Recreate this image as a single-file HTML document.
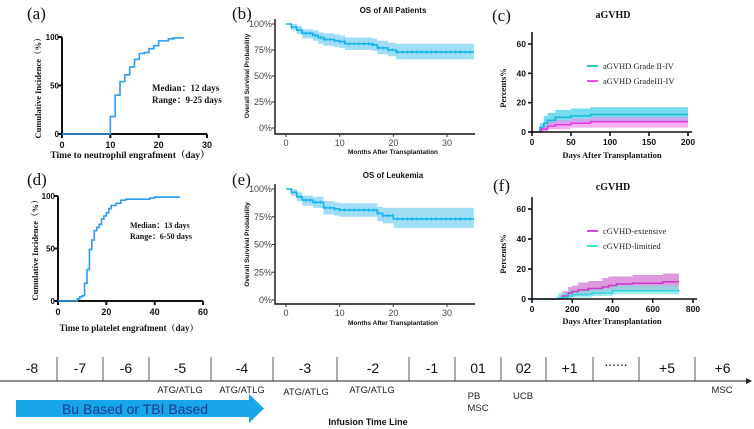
<!DOCTYPE html>
<html><head><meta charset="utf-8">
<style>
html,body{margin:0;padding:0;background:#fff;}
svg{display:block;}
.serif{font-family:"Liberation Serif","Noto Serif CJK SC",serif;}
.sans{font-family:"Liberation Sans","Noto Sans CJK SC",sans-serif;}
</style></head>
<body>
<svg id="fig" width="754" height="429" viewBox="0 0 754 429" xmlns="http://www.w3.org/2000/svg"></svg>
<script>
// ---- data ----
const neutDays = [0, 9, 10, 11, 12, 13, 14, 15, 16, 17, 18, 19, 20, 22, 23, 25];
const neutPct  = [0, 0, 18, 40, 54, 61, 69, 77, 83, 84, 88, 91, 96, 98, 99, 100];
const pltDays = [0, 6, 8, 9, 10, 11, 12, 13, 14, 15, 16, 17, 18, 19, 20, 21, 22, 24, 26, 28, 38, 40, 50];
const pltPct  = [0, 0, 2, 4, 5, 17, 30, 49, 58, 67, 70, 73, 78, 81, 84, 88, 91, 93, 96, 97, 98, 99, 100];
const osAllMonths = [0, 1, 2, 3, 5, 6, 7, 9, 10, 11, 16, 17, 19, 20.5, 35];
const osAllSurv   = [100, 97, 94, 91, 89, 87, 85, 84, 83, 81, 80, 77, 75, 73, 73];
const osAllLow    = [100, 94, 90, 86, 84, 81, 79, 78, 77, 75, 74, 71, 69, 66, 66];
const osAllHigh   = [100, 100, 98, 95, 94, 92, 91, 90, 89, 87, 86, 84, 82, 81, 81];
const osLeuMonths = [0, 1, 2, 3, 5, 7, 9, 10, 17, 18, 20, 35];
const osLeuSurv   = [100, 97, 93, 90, 88, 83, 82, 81, 78, 76, 73, 73];
const osLeuLow    = [100, 94, 89, 85, 83, 77, 76, 75, 71, 69, 65, 65];
const osLeuHigh   = [100, 100, 97, 94, 93, 89, 88, 87, 84, 83, 83, 83];
const aDays = [0, 8, 10, 15, 20, 30, 50, 75, 200];
const a24   = [0, 0, 3, 6, 8, 10, 11, 12, 12];
const a24Lo = [0, 0, 0, 2, 4, 6, 7, 7, 7];
const a24Hi = [0, 0, 6, 11, 13, 15, 16, 17, 17];
const a34Days = [0, 10, 12, 20, 30, 50, 75, 200];
const a34   = [0, 0, 2, 4, 5, 6, 7, 7];
const a34Lo = [0, 0, 0, 2, 2, 3, 3, 3];
const a34Hi = [0, 0, 4, 7, 8, 9, 10, 10];
const cExtDays = [0, 100, 150, 180, 200, 230, 280, 350, 380, 420, 500, 650, 730];
const cExt   = [0, 0, 2, 4, 5, 6, 7, 8, 9, 10, 10.5, 11.5, 11.5];
const cExtLo = [0, 0, 0, 1, 2, 2, 3, 4, 5, 5, 6, 6, 6];
const cExtHi = [0, 0, 5, 8, 9, 11, 12, 14, 15, 15, 16, 17, 17];
const cLimDays = [0, 100, 130, 180, 200, 300, 400, 730];
const cLim   = [0, 0, 1, 2, 3, 4, 5.5, 6];
const cLimLo = [0, 0, 0, 0, 1, 2, 3, 3];
const cLimHi = [0, 0, 4, 5, 6, 7, 9, 9];
const timelineLabels = ["-8","-7","-6","-5","-4","-3","-2","-1","01","02","+1","......","+5","+6"];

const NS = "http://www.w3.org/2000/svg";
const fig = document.getElementById('fig');
function mk(tag, attrs, parent, text){
  const e = document.createElementNS(NS, tag);
  for (const k in attrs) e.setAttribute(k, attrs[k]);
  if (text !== undefined) e.textContent = text;
  (parent || fig).appendChild(e);
  return e;
}
function scale(d0,d1,r0,r1){ return v => r0 + (v-d0)/(d1-d0)*(r1-r0); }
function stepPath(xs, ys, sx, sy, xEnd){
  let d = "M" + sx(xs[0]) + "," + sy(ys[0]);
  for (let i=1;i<xs.length;i++){ d += " H" + sx(xs[i]) + " V" + sy(ys[i]); }
  if (xEnd !== undefined) d += " H" + sx(xEnd);
  return d;
}
function stepBand(xs, lo, hi, sx, sy){
  let d = "M" + sx(xs[0]) + "," + sy(hi[0]);
  for (let i=1;i<xs.length;i++){ d += " H" + sx(xs[i]) + " V" + sy(hi[i]); }
  for (let i=xs.length-1;i>0;i--){ d += " V" + sy(lo[i]) + " H" + sx(xs[i]); }
  d += " V" + sy(lo[0]) + " Z";
  return d;
}
function panelLabel(txt, x, y, name){
  const t = mk('text', {x:x, y:y, 'font-size':17, class:'serif', fill:'#111'}, fig, txt);
  
  
}

function prismAxes(g, sx, sy, xticks, yticks, x0, y0, xmax, ymax, fs){
  const ax = mk('path', {d:`M${sx(x0)},${sy(ymax)} V${sy(y0)} H${sx(xmax)}`, stroke:'#111', 'stroke-width':2, fill:'none'}, g);
  
  
  xticks.forEach(v=>{
    mk('line',{x1:sx(v),x2:sx(v),y1:sy(y0),y2:sy(y0)+4,stroke:'#111','stroke-width':2},g);
    const t = mk('text',{x:sx(v),y:sy(y0)+14,'font-size':fs,'font-weight':'bold','text-anchor':'middle',class:'sans',fill:'#111'},g,String(v));
    
    
  });
  yticks.forEach(v=>{
    mk('line',{x1:sx(x0)-4,x2:sx(x0),y1:sy(v),y2:sy(v),stroke:'#111','stroke-width':2},g);
    const t = mk('text',{x:sx(x0)-3,y:sy(v)+3,'font-size':fs-1,'font-weight':'bold','text-anchor':'end',class:'sans',fill:'#111'},g,String(v));
    
    
  });
}

// ---- Panel a ----
(function(){
  const g = mk('g',{});
  
  
  const sx = scale(0,30,62,207), sy = scale(0,100,134,37);
  prismAxes(g, sx, sy, [0,10,20,30], [0,50,100], 0, 0, 30, 100, 9);
  const p = mk('path',{d:stepPath(neutDays,neutPct,sx,sy),stroke:'#2a9df4','stroke-width':1.6,fill:'none'},g);
  
  
  const yl = mk('text',{x:0,y:0,transform:'translate(41,86) rotate(-90)','font-size':8.5,'font-weight':'bold','text-anchor':'middle',class:'serif',fill:'#111'},g,'Cumulative Incidence（%）');
  
  
  const xl = mk('text',{x:130,y:158,'font-size':9.5,'font-weight':'bold','text-anchor':'middle',class:'serif',fill:'#111'},g,'Time to neutrophil engrafment（day）');
  
  
  const m = mk('text',{x:152,y:91,'font-size':9,'font-weight':'bold',class:'serif',fill:'#111'},g,'Median：12 days');
  
  
  const r = mk('text',{x:152,y:103,'font-size':9,'font-weight':'bold',class:'serif',fill:'#111'},g,'Range：9-25 days');
  
  
})();
panelLabel('(a)', 27, 19, 'panel-label-a');

// ---- Panel d ----
(function(){
  const g = mk('g',{});
  
  
  const sx = scale(0,60,58,203), sy = scale(0,100,301,196);
  prismAxes(g, sx, sy, [0,20,40,60], [0,50,100], 0, 0, 60, 100, 9);
  const p = mk('path',{d:stepPath(pltDays,pltPct,sx,sy),stroke:'#2a9df4','stroke-width':1.6,fill:'none'},g);
  
  
  const yl = mk('text',{x:0,y:0,transform:'translate(38,248) rotate(-90)','font-size':8.5,'font-weight':'bold','text-anchor':'middle',class:'serif',fill:'#111'},g,'Cumulative Incidence（%）');
  
  
  const xl = mk('text',{x:129,y:331,'font-size':9,'font-weight':'bold','text-anchor':'middle',class:'serif',fill:'#111'},g,'Time to platelet engrafment（day）');
  
  
  const m = mk('text',{x:130,y:228,'font-size':8,'font-weight':'bold',class:'serif',fill:'#111'},g,'Median：13 days');
  
  
  const r = mk('text',{x:130,y:239,'font-size':8,'font-weight':'bold',class:'serif',fill:'#111'},g,'Range：6-50 days');
  
  
})();
panelLabel('(d)', 27, 185, 'panel-label-d');

// ---- OS panels ----
function osPanel(name, title, yTop, yBot, xAxisY, titleY, xLabY, months, surv, lo, hi){
  const g = mk('g',{});
  
  
  const sx = scale(0,30,286,447), sy = scale(0,100,yBot,yTop);
  const band = mk('path',{d:stepBand(months,lo,hi,sx,sy),fill:'#8fd8f5',opacity:0.85},g);
  
  
  const line = mk('path',{d:stepPath(months,surv,sx,sy),stroke:'#12b3ee','stroke-width':1.6,fill:'none'},g);
  
  
  for (let m=1; m<35; m+=0.9){
    let v = surv[0];
    for (let i=0;i<months.length;i++) if (months[i]<=m) v = surv[i];
    mk('line',{x1:sx(m),x2:sx(m),y1:sy(v)-2,y2:sy(v)+2,stroke:'#12b3ee','stroke-width':0.7},g);
  }
  mk('path',{d:`M275,${yTop-5} V${xAxisY} H475`,stroke:'#111','stroke-width':1.4,fill:'none'},g);
  [0,10,20,30].forEach(v=>{
    mk('line',{x1:sx(v),x2:sx(v),y1:xAxisY,y2:xAxisY+3,stroke:'#333','stroke-width':1},g);
    const t = mk('text',{x:sx(v),y:xAxisY+12,'font-size':9,'text-anchor':'middle',class:'sans',fill:'#444'},g,String(v));
    
    
  });
  [0,25,50,75,100].forEach(v=>{
    mk('line',{x1:272,x2:275,y1:sy(v),y2:sy(v),stroke:'#333','stroke-width':1},g);
    const t = mk('text',{x:272,y:sy(v)+3,'font-size':9,'text-anchor':'end',class:'sans',fill:'#444'},g,v+'%');
    
    
  });
  const tt = mk('text',{x:393,y:titleY,'font-size':8,'font-weight':'bold','text-anchor':'middle',class:'sans',fill:'#111'},g,title);
  
  
  const yl = mk('text',{x:0,y:0,transform:`translate(249,${(yTop+yBot)/2}) rotate(-90)`,'font-size':6.5,'font-weight':'bold','text-anchor':'middle',class:'sans',fill:'#111'},g,'Overall Survival Probability');
  
  
  const xl = mk('text',{x:393,y:xLabY,'font-size':6.5,'font-weight':'bold','text-anchor':'middle',class:'sans',fill:'#111'},g,'Months After Transplantation');
  
  
}
osPanel('panel-b-os-all','OS of All Patients',24,128,134,13,154,osAllMonths,osAllSurv,osAllLow,osAllHigh);
osPanel('panel-e-os-leukemia','OS of Leukemia',189,300,304,178,325,osLeuMonths,osLeuSurv,osLeuLow,osLeuHigh);
panelLabel('(b)', 232, 19, 'panel-label-b');
panelLabel('(e)', 232, 185, 'panel-label-e');

// ---- GVHD panels ----
function gvhdPanel(name, title, titleY, xMax, xticks, x1px, yTop60, yBot, xLabY, series, legY){
  const g = mk('g',{});
  
  
  const sx = scale(0,xMax,532,x1px), sy = scale(0,60,yBot,yTop60);
  series.forEach(s=>{
    const b = mk('path',{d:stepBand(s.x,s.lo,s.hi,sx,sy),fill:s.band,opacity:0.7},g);
    
    
  });
  series.forEach(s=>{
    const l = mk('path',{d:stepPath(s.x,s.y,sx,sy),stroke:s.color,'stroke-width':1.6,fill:'none'},g);
    
    
  });
  const yt = sy(60)-12;
  mk('path',{d:`M532,${yt} V${yBot} H${x1px+4}`,stroke:'#111','stroke-width':1.6,fill:'none'},g);
  xticks.forEach(v=>{
    mk('line',{x1:sx(v),x2:sx(v),y1:yBot,y2:yBot+4,stroke:'#111','stroke-width':1.6},g);
    const t = mk('text',{x:sx(v),y:yBot+13,'font-size':8.5,'font-weight':'bold','text-anchor':'middle',class:'sans',fill:'#111'},g,String(v));
    
    
  });
  [0,20,40,60].forEach(v=>{
    mk('line',{x1:528,x2:532,y1:sy(v),y2:sy(v),stroke:'#111','stroke-width':1.6},g);
    const t = mk('text',{x:526,y:sy(v)+3,'font-size':8.5,'font-weight':'bold','text-anchor':'end',class:'sans',fill:'#111'},g,String(v));
    
    
  });
  const tt = mk('text',{x:613,y:titleY,'font-size':10,'font-weight':'bold','text-anchor':'middle',class:'serif',fill:'#111'},g,title);
  
  
  const yl = mk('text',{x:0,y:0,transform:`translate(506,${sy(30)}) rotate(-90)`,'font-size':8.5,'font-weight':'bold','text-anchor':'middle',class:'serif',fill:'#111'},g,'Percents%');
  
  
  const xl = mk('text',{x:612,y:xLabY,'font-size':8.5,'font-weight':'bold','text-anchor':'middle',class:'serif',fill:'#111'},g,'Days After Transplantation');
  
  
  series.forEach((s,i)=>{
    const ly = legY + i*15;
    mk('line',{x1:587,x2:598,y1:ly,y2:ly,stroke:s.color,'stroke-width':1.8},g);
    const t = mk('text',{x:603,y:ly+3,'font-size':8.5,class:'serif',fill:'#222'},g,s.name);
    
    
  });
}
gvhdPanel('panel-c-agvhd','aGVHD',18,200,[0,50,100,150,200],688,44,132,158,[
  {name:'aGVHD Grade II-IV',x:aDays,y:a24,lo:a24Lo,hi:a24Hi,color:'#1ab7d8',band:'#3fcdea'},
  {name:'aGVHD GradeIII-IV',x:a34Days,y:a34,lo:a34Lo,hi:a34Hi,color:'#e03ce0',band:'#f18cf0'}
],66);
gvhdPanel('panel-f-cgvhd','cGVHD',190,800,[0,200,400,600,800],693,209,299,324,[
  {name:'cGVHD-extensive',x:cExtDays,y:cExt,lo:cExtLo,hi:cExtHi,color:'#c83ac8',band:'#cf70cf'},
  {name:'cGVHD-limitied',x:cLimDays,y:cLim,lo:cLimLo,hi:cLimHi,color:'#2fd8e8',band:'#7fe6de'}
],231);
panelLabel('(c)', 492, 21, 'panel-label-c');
panelLabel('(f)', 493, 191, 'panel-label-f');

// ---- Timeline ----
(function(){
  const g = mk('g',{});
  
  
  const ax = mk('line',{x1:0,x2:748,y1:381,y2:381,stroke:'#222','stroke-width':1},g);
  
  
  mk('path',{d:'M746,378 L752,381 L746,384 Z',fill:'#222'},g);
  const seps = [57,103,149,211,273,337,409,455,501,546,593,639,695];
  seps.forEach(x=> mk('line',{x1:x,x2:x,y1:357,y2:381,stroke:'#333','stroke-width':0.8},g));
  const edges = [7].concat(seps).concat([750]);
  timelineLabels.forEach((lab,i)=>{
    const cx = (edges[i]+edges[i+1])/2;
    const t = mk('text',{x:cx,y:(lab==='......'?366:373),'font-size':14,'text-anchor':'middle',class:'sans',fill:'#111'},g,lab);
    
    
  });
  const notes = [[180,393,'ATG/ATLG'],[242,393,'ATG/ATLG'],[306,395,'ATG/ATLG'],[372,393,'ATG/ATLG'],[474,399,'PB'],[478,411,'MSC'],[523,399,'UCB'],[722,393,'MSC']];
  notes.forEach(n=>{
    const t = mk('text',{x:n[0],y:n[1],'font-size':9.5,'text-anchor':'middle',class:'sans',fill:'#222'},g,n[2]);
    
    
  });
  const arr = mk('path',{d:'M16,400 H249 V394 L264,408.5 L249,423 V417 H16 Z',fill:'#17a6e8'},g);
  
  
  const at = mk('text',{x:135,y:414,'font-size':14,'text-anchor':'middle',class:'sans',fill:'#1b3a8a'},g,'Bu Based or TBI Based');
  
  
  const il = mk('text',{x:368,y:425,'font-size':9,'font-weight':'bold','text-anchor':'middle',class:'sans',fill:'#111'},g,'Infusion Time Line');
  
  
})();
</script>
</body></html>
